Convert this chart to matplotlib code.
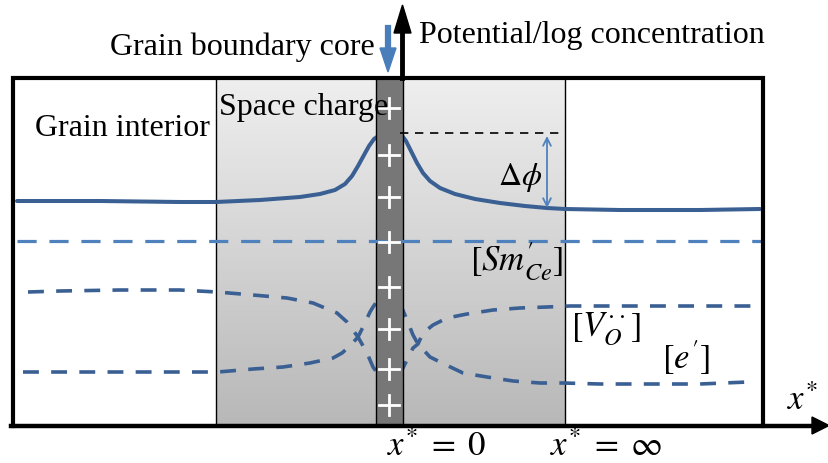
import matplotlib.pyplot as plt
import numpy as np
from matplotlib.patches import Rectangle, Polygon
from matplotlib.colors import LinearSegmentedColormap

plt.rcParams['font.family'] = ['Liberation Serif', 'DejaVu Serif']
plt.rcParams['mathtext.fontset'] = 'stix'

# schematic drawn in picture coordinates (x to the right, y downwards)
# potential curve, left and right of the core
phi_left_x = [17, 100, 180, 216, 260, 300, 320, 335, 345, 352, 358, 364, 369, 374, 380]
phi_left_y = [201, 201, 202, 202, 200, 197, 194, 190, 184, 176, 166, 155, 146, 139, 135]
phi_right_x = [400, 406, 411, 417, 423, 430, 440, 455, 475, 500, 525, 547, 565, 620, 700, 760]
phi_right_y = [133, 141, 151, 163, 173, 181, 188, 194, 199, 203, 206, 208, 209, 210, 210, 209]

# [Sm'_Ce] flat line
sm_x = [17, 763]
sm_y = [241, 241]

# [V_O] and [e'] curves
vo_left_x = [28, 60, 120, 180, 217, 253, 287, 313, 337, 347, 358, 367, 373, 378]
vo_left_y = [292, 291, 290, 290, 292, 295, 298, 303, 313, 322, 337, 353, 367, 374]
e_left_x = [23, 80, 150, 218, 253, 283, 310, 333, 342, 350, 358, 364, 370, 373, 378]
e_left_y = [372, 372, 372, 372, 369, 367, 363, 358, 353, 346, 337, 325, 312, 307, 300]
e_right_x = [400, 402, 407, 413, 418, 430, 442, 463, 487, 513, 540, 563, 600, 650, 700, 748]
e_right_y = [302, 308, 320, 335, 344, 357, 363, 373, 377, 381, 383, 383, 384, 384, 384, 382]
vo_right_x = [400, 402, 407, 413, 418, 423, 433, 447, 467, 493, 520, 547, 570, 650, 753]
vo_right_y = [376, 370, 360, 348, 344, 333, 325, 318, 314, 310, 308, 307, 306, 306, 306]

plus_y = [108, 155, 197, 242, 287, 329, 369, 405]

dark_blue = '#3a5f93'
light_blue = '#4f81bd'

fig = plt.figure(figsize=(8.29, 4.63), dpi=100)
ax = fig.add_axes([0, 0, 1, 1])
ax.set_axis_off()

# space charge region with gradient
cmap = LinearSegmentedColormap.from_list('g', ['#efefef', '#b8b8b8'])
ax.imshow(np.linspace(0, 1, 256).reshape(-1, 1), cmap=cmap, aspect='auto',
          extent=(216, 565, 425, 78), origin='upper', zorder=1)
ax.plot([216, 216], [78, 425], color='black', lw=1.0, zorder=2)
ax.plot([565, 565], [78, 425], color='black', lw=1.0, zorder=2)

# curves
ax.plot(phi_left_x, phi_left_y, color=dark_blue, lw=2.9, zorder=3, solid_capstyle='round')
ax.plot(phi_right_x, phi_right_y, color=dark_blue, lw=2.9, zorder=3, solid_capstyle='round')
ds = (0, (4.4, 3.4))
for xs, ys in [(vo_left_x, vo_left_y), (e_left_x, e_left_y),
               (e_right_x, e_right_y), (vo_right_x, vo_right_y)]:
    ax.plot(xs, ys, color=dark_blue, lw=2.6, ls=ds, zorder=3)

# grain boundary core
ax.add_patch(Rectangle((376, 78), 27, 347, facecolor='#777777', edgecolor='black',
                       lw=1.0, zorder=4))
ax.plot(sm_x, sm_y, color=light_blue, lw=2.3, ls=(0, (6, 4)), zorder=5)
for py in plus_y:
    ax.plot([379, 399], [py, py], color='white', lw=2.0, zorder=6)
    ax.plot([389, 389], [py - 10, py + 10], color='white', lw=2.0, zorder=6)

# frame
ax.plot([13, 13, 763, 763], [426, 78, 78, 426], color='black', lw=3.0, zorder=7,
        solid_joinstyle='miter')
ax.plot([11, 815], [426, 426], color='black', lw=3.2, zorder=7)
ax.add_patch(Polygon([[812, 417], [829, 425.5], [812, 434]], closed=True,
                     color='black', zorder=7))
ax.plot([402.5, 402.5], [78, 30], color='black', lw=3.5, zorder=7)
ax.add_patch(Polygon([[394, 33], [402.5, 5], [411, 33]], closed=True,
                     color='black', zorder=7))

# blue arrow marking the core
ax.plot([388, 388], [28, 50], color='#4a7ebb', lw=4.5, zorder=7)
ax.add_patch(Polygon([[380, 48], [388, 72], [396, 48]], closed=True,
                     color='#4a7ebb', zorder=7))

# potential step
ax.plot([400, 562], [133, 133], color='black', lw=1.2, ls=(0, (5, 4)), zorder=5)
ax.annotate('', xy=(547, 136), xytext=(547, 208),
            arrowprops=dict(arrowstyle='<->', color=light_blue, lw=1.3,
                            mutation_scale=14, shrinkA=0, shrinkB=0), zorder=6)

# labels
fs = 23
ms = 25
ax.text(375, 55, 'Grain boundary core', fontsize=fs, ha='right', va='baseline', zorder=8)
ax.text(419, 43, 'Potential/log concentration', fontsize=fs, ha='left', va='baseline', zorder=8)
ax.text(35, 136, 'Grain interior', fontsize=fs, ha='left', va='baseline', zorder=8)
ax.text(219, 115, 'Space charge', fontsize=fs, ha='left', va='baseline', zorder=8)
ax.text(520, 177, r'$\Delta\phi$', fontsize=23, ha='center', va='center', zorder=8)
ax.text(517, 261, r"$[Sm^{\prime}_{Ce}]$", fontsize=ms, ha='center', va='center', zorder=8)
ax.text(606, 329, r"$[V_O^{\cdot\cdot}]$", fontsize=ms, ha='center', va='center', zorder=8)
ax.text(686, 358, r"$[e^{\prime}]$", fontsize=ms, ha='center', va='center', zorder=8)
ax.text(803, 401, r"$x^{*}$", fontsize=ms, ha='center', va='center', zorder=8)
ax.text(387, 448, r"$x^{*}\;=\;0$", fontsize=ms, ha='left', va='center', zorder=8)
ax.text(550, 448, r"$x^{*}\;=\;\infty$", fontsize=ms, ha='left', va='center', zorder=8)

ax.set_xlim(0, 829)
ax.set_ylim(463, 0)

fig.savefig('out.png', dpi=100)
